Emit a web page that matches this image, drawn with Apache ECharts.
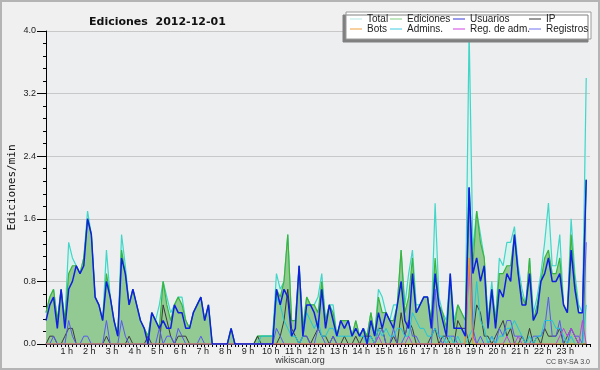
<!DOCTYPE html>
<html><head><meta charset="utf-8">
<script src="https://cdn.jsdelivr.net/npm/echarts@6/dist/echarts.min.js"></script>
<style>html,body{margin:0;padding:0;background:#f0f0f0}#c{width:600px;height:370px}</style>
</head><body><div id="c"></div>
<script>
// 10-minute slots 0..143 (00:00 - 23:50), values in edits/min
const hourLabels = ['1 h','2 h','3 h','4 h','5 h','6 h','7 h','8 h','9 h','10 h','11 h','12 h','13 h','14 h','15 h','16 h','17 h','18 h','19 h','20 h','21 h','22 h','23 h'];
const yTicks = [0.0, 0.8, 1.6, 2.4, 3.2, 4.0];

const total = [
0.4,0.6,0.7,0.3,0.7,0.3, 1.3,1.1,1.0,0.9,1.1,1.7, 1.4,0.6,0.5,0.3,1.2,0.6, 0.3,0.1,1.4,1.0,0.5,0.7,
0.5,0.3,0.2,0.1,0.4,0.3, 0.5,0.8,0.6,0.4,0.5,0.6, 0.6,0.3,0.2,0.4,0.5,0.6, 0.3,0.5,0,0,0,0,
0,0.2,0,0,0,0, 0,0,0.1,0.1,0.1,0.1, 0.1,0.9,0.7,0.8,1.4,0.3, 0.3,1.0,0.2,0.6,0.5,0.5,
0.6,0.9,0.3,0.5,0.5,0.1, 0.3,0.3,0.3,0.1,0.3,0.1, 0.2,0.1,0.4,0.1,0.7,0.6, 0.4,0.3,0.5,0.5,1.2,0.5,
0.9,1.2,0.5,0.5,0.6,0.6, 0.3,1.8,0.6,0.4,0.3,0.9, 0.3,0.5,0.4,0.3,4.0,1.2, 1.7,1.4,1.1,0.3,0.8,0.3,
1.1,1.0,1.3,1.3,1.5,1.0, 0.7,0.5,1.1,0.4,0.6,0.9, 1.3,1.8,1.0,1.0,1.4,0.5, 0.4,1.6,0.9,0.5,0.4,3.4];

const ediciones = [
0.4,0.6,0.7,0.3,0.7,0.3, 0.9,1.0,1.0,0.9,1.1,1.6, 1.4,0.6,0.5,0.3,0.9,0.6, 0.3,0.1,1.2,0.9,0.5,0.7,
0.5,0.3,0.2,0.1,0.4,0.3, 0.2,0.8,0.5,0.3,0.5,0.6, 0.5,0.3,0.2,0.4,0.5,0.6, 0.3,0.5,0,0,0,0,
0,0.2,0,0,0,0, 0,0,0.1,0.1,0.1,0.1, 0.1,0.7,0.6,0.8,1.4,0.3, 0.3,1.0,0.2,0.6,0.5,0.5,
0.4,0.8,0.3,0.5,0.4,0.1, 0.3,0.3,0.3,0.1,0.3,0.1, 0.2,0.1,0.4,0.1,0.6,0.4, 0.4,0.3,0.3,0.5,1.2,0.4,
0.6,1.1,0.4,0.5,0.6,0.6, 0.3,1.1,0.5,0.4,0.2,0.8, 0.2,0.5,0.4,0.3,2.0,1.0, 1.7,1.3,1.1,0.3,0.7,0.3,
0.9,0.9,1.0,1.0,1.4,0.9, 0.6,0.5,1.1,0.3,0.5,0.8, 1.1,1.2,0.9,0.9,1.1,0.5, 0.4,1.4,0.8,0.4,0.4,2.1];

const usuarios = [
0.3,0.5,0.6,0.2,0.7,0.2, 0.7,0.8,1.0,0.9,1.0,1.6, 1.4,0.6,0.5,0.3,0.8,0.6, 0.3,0.1,1.1,0.9,0.5,0.7,
0.5,0.3,0.2,0.0,0.4,0.3, 0.2,0.3,0.2,0.2,0.5,0.4, 0.4,0.2,0.2,0.4,0.5,0.6, 0.3,0.5,0,0,0,0,
0,0.2,0,0,0,0, 0,0,0,0,0,0, 0,0.7,0.5,0.7,0.6,0.1, 0.2,1.0,0.1,0.5,0.5,0.4,
0.2,0.7,0.2,0.5,0.3,0.1, 0.3,0.2,0.3,0.1,0.2,0.1, 0.2,0.0,0.3,0.1,0.4,0.2, 0.4,0.3,0.2,0.5,0.8,0.3,
0.2,0.9,0.4,0.5,0.6,0.6, 0.2,0.9,0.5,0.3,0.1,0.9, 0.2,0.2,0.2,0.1,2.0,0.9, 1.1,0.8,1.0,0.2,0.7,0.2,
0.7,0.6,0.9,0.8,1.4,0.9, 0.5,0.5,0.9,0.3,0.4,0.8, 0.9,1.1,0.8,0.8,0.9,0.5, 0.4,1.2,0.7,0.4,0.4,2.1];

const ip = [
0,0.1,0.1,0,0,0.1, 0.2,0.2,0,0,0,0, 0,0,0,0,0.1,0, 0,0,0,0,0.1,0,
0,0,0,0.1,0,0, 0,0.5,0.3,0.1,0,0.1, 0.1,0.1,0,0,0,0, 0,0,0,0,0,0,
0,0,0,0,0,0, 0,0,0.1,0,0,0, 0,0,0.1,0.3,0.7,0.2, 0.1,0,0.1,0.1,0,0.1,
0.2,0.1,0.1,0,0.1,0, 0,0.1,0,0,0.1,0, 0.1,0.1,0.1,0,0.2,0.2, 0,0,0.1,0,0.4,0.1,
0.3,0.2,0,0,0,0, 0.1,0.2,0,0.1,0.1,0, 0,0.3,0.2,0.2,0,0.1, 0.5,0.4,0.1,0.1,0,0.1,
0.2,0.3,0.1,0.2,0,0, 0.1,0,0.2,0,0.1,0, 0.2,0.1,0.1,0.1,0.2,0, 0.1,0.2,0.1,0,0,0];

const bots = [
0,0,0,0,0,0, 0,0,0,0,0,0, 0,0,0,0,0,0, 0,0,0,0,0,0,
0,0,0,0,0,0, 0,0,0,0,0,0, 0,0,0,0,0,0, 0,0,0,0,0,0,
0,0,0,0,0,0, 0,0,0,0,0,0, 0,0,0,0,0,0, 0,0,0,0,0,0,
0,0,0,0,0,0, 0,0,0,0,0,0, 0,0,0,0,0,0, 0,0,0,0,0,0,
0,0,0,0,0,0, 0,0,0,0,0,0, 0,0,0,0,1.1,0, 0,0,0,0,0,0,
0,0,0,0,0,0, 0,0,0,0,0,0, 0,0,0,0,0,0, 0,0,0,0,0,0];

const admins = [
0,0,0,0,0,0, 0,0,0,0,0,0, 0,0,0,0,0,0, 0,0,0,0,0,0,
0,0,0,0,0,0, 0,0,0,0,0,0, 0,0,0,0,0,0, 0,0,0,0,0,0,
0,0,0,0,0,0, 0,0,0,0.1,0.1,0.1, 0.1,0.6,0.5,0.3,0.2,0.1, 0.1,0,0.1,0.4,0.3,0.2,
0.3,0.1,0.1,0.2,0.2,0.1, 0.1,0.1,0.1,0.1,0.2,0.1, 0.1,0,0.1,0,0.2,0.1, 0.2,0.1,0.1,0.2,0.2,0.1,
0.1,0.4,0.3,0.2,0.2,0.1, 0.1,0.2,0.1,0.1,0,0.1, 0,0.1,0,0,0.1,0.2, 0.8,0.3,0.2,0,0.1,0,
0.1,0.1,0.2,0.2,0.3,0.2, 0.1,0,0.1,0,0.1,0.1, 0.3,0.3,0.3,0.2,0.2,0.1, 0,0.1,0,0,0,0.5];

const regAdm = [
0,0,0,0,0,0, 0,0,0,0,0,0, 0,0,0,0,0,0, 0,0,0,0,0,0,
0,0,0,0,0,0, 0,0,0,0,0,0, 0,0,0,0,0,0, 0,0,0,0,0,0,
0,0,0,0,0,0, 0,0,0,0,0,0, 0,0,0,0,0,0, 0,0,0,0,0,0,
0,0,0,0,0,0, 0,0,0,0,0,0, 0,0,0,0,0.1,0, 0,0,0,0,0,0,
0.1,0,0,0,0,0, 0,0,0,0,0,0, 0,0,0,0,1.0,0.1, 0,0,0,0,0,0,
0,0,0.1,0,0,0.1, 0,0,0,0,0,0, 0,0,0,0,0.1,0.2, 0.1,0.2,0.1,0,0.3,0];

const registros = [
0,0,0.1,0,0,0, 0.3,0.1,0,0,0.1,0.1, 0,0,0,0,0.3,0, 0,0,0.3,0.1,0,0,
0,0,0,0,0,0, 0.2,0,0.1,0.1,0,0.2, 0.1,0,0,0,0,0.1, 0,0,0,0,0,0,
0,0,0,0,0,0, 0,0,0,0,0,0, 0,0.2,0.1,0,0,0, 0,0,0.1,0.1,0,0,
0.2,0.1,0,0,0.1,0, 0,0,0,0,0,0, 0,0,0,0,0.1,0.2, 0,0,0.2,0,0,0.1,
0.3,0.1,0.1,0,0,0, 0,0.7,0.1,0,0.1,0.1, 0.1,0,0,0,2.0,0.2, 0,0.1,0,0,0.1,0,
0.2,0.1,0.3,0.3,0.1,0.1, 0.1,0,0,0.1,0.1,0.1, 0.2,0.6,0.1,0.1,0.3,0, 0,0.2,0.1,0.1,0,1.3];

const pts = arr => arr.map((v, i) => [i, v]);
const FONT = 'Liberation Sans';

const lineSeries = (name, data, color, width, z) => ({
  name, type: 'line', data: pts(data), symbol: 'none', z,
  lineStyle: { color, width }, itemStyle: { color }, emphasis: { disabled: true }
});

const chart = echarts.init(document.getElementById('c'), null, { renderer: 'canvas' });
const legendBase = {
  orient: 'vertical', top: 14, itemWidth: 12, itemHeight: 1, itemGap: 0, icon: 'rect',
  padding: 0, selectedMode: false, z: 20,
  textStyle: { fontFamily: FONT, fontSize: 10, color: '#222', lineHeight: 10 }
};
chart.setOption({
  animation: false,
  backgroundColor: '#f0f0f0',
  title: { text: 'Ediciones  2012-12-01', left: 84, top: 12,
    textStyle: { fontFamily: 'DejaVu Sans', fontSize: 11, fontWeight: 'bold', color: '#111' } },
  graphic: [
    { type: 'rect', shape: { x: 1, y: 1, width: 598, height: 368 }, style: { fill: 'none', stroke: '#b4b4b4', lineWidth: 2 }, z: 100 },
    { type: 'rect', shape: { x: 346, y: 12, width: 245, height: 27 },
      style: { fill: '#ffffff', stroke: '#9a9a9a', lineWidth: 1, shadowColor: '#808080', shadowOffsetX: -3, shadowOffsetY: 3, shadowBlur: 0 }, z: 5 },
    { type: 'text', left: 'center', top: 356, style: { text: 'wikiscan.org', fontFamily: FONT, fontSize: 9, fill: '#333' } },
    { type: 'text', right: 10, top: 359, style: { text: 'CC BY-SA 3.0', fontFamily: FONT, fontSize: 7, fill: '#444' } }
  ],
  legend: [
    Object.assign({}, legendBase, { left: 350, data: [{ name: 'Total', itemStyle: { color: '#b2e9e4' } }, { name: 'Bots', itemStyle: { color: '#f0a040' } }] }),
    Object.assign({}, legendBase, { left: 390, data: [{ name: 'Ediciones', itemStyle: { color: '#80cc80' } }, { name: 'Admins.', itemStyle: { color: '#40cce0' } }] }),
    Object.assign({}, legendBase, { left: 453, data: [{ name: 'Usuarios', itemStyle: { color: '#3434d8' } }, { name: 'Reg. de adm.', itemStyle: { color: '#d040e0' } }] }),
    Object.assign({}, legendBase, { left: 529, data: [{ name: 'IP', itemStyle: { color: '#333333' } }, { name: 'Registros', itemStyle: { color: '#7070f0' } }] })
  ],
  grid: { left: 46, right: 10, top: 31, bottom: 26, show: true, backgroundColor: '#eceef0', borderWidth: 0,
    containLabel: false, outerBoundsMode: 'none' },
  xAxis: {
    type: 'value', min: 0, max: 144, interval: 6,
    axisLine: { show: true, lineStyle: { color: '#000', width: 1 } },
    axisTick: { show: true, inside: false, length: 3, lineStyle: { color: '#000' } },
    minorTick: { show: true, splitNumber: 6, length: 3, lineStyle: { color: '#000' } },
    splitLine: { show: false },
    axisLabel: { margin: 3, padding: [0, 4, 0, 0], fontFamily: FONT, fontSize: 9, color: '#222',
      formatter: v => (v > 0 && v < 144) ? hourLabels[v / 6 - 1] : '' }
  },
  yAxis: {
    type: 'value', min: yTicks[0], max: yTicks[yTicks.length - 1], interval: 0.8,
    name: 'Ediciones/min', nameLocation: 'middle', nameGap: 28, nameMoveOverlap: false,
    nameTextStyle: { fontFamily: 'DejaVu Sans Mono', fontSize: 11, color: '#111' },
    axisLine: { show: true, lineStyle: { color: '#000', width: 1 } },
    axisTick: { show: true, length: 9, lineStyle: { color: '#000' } },
    minorTick: { show: true, splitNumber: 5, length: 3, lineStyle: { color: '#000' } },
    splitLine: { show: true, lineStyle: { color: '#c8c8c8', width: 1 } },
    axisLabel: { margin: 10, fontFamily: FONT, fontSize: 9, color: '#222', formatter: v => v.toFixed(1) }
  },
  series: [
    Object.assign(lineSeries('Total', total, '#40d6c8', 1.2, 1), { areaStyle: { color: '#d6f3ee', opacity: 1 } }),
    Object.assign(lineSeries('Ediciones', ediciones, '#3cb43c', 1.2, 2), { areaStyle: { color: '#93c993', opacity: 1 } }),
    lineSeries('IP', ip, '#3a3a3a', 1, 3),
    lineSeries('Registros', registros, '#5858f0', 1, 3),
    lineSeries('Admins.', admins, '#20c4e0', 1, 3),
    lineSeries('Reg. de adm.', regAdm, '#c040e0', 1, 3),
    lineSeries('Bots', bots, '#f09020', 1, 3),
    lineSeries('Usuarios', usuarios, '#1020e0', 1.5, 4)
  ]
});
</script></body></html>
